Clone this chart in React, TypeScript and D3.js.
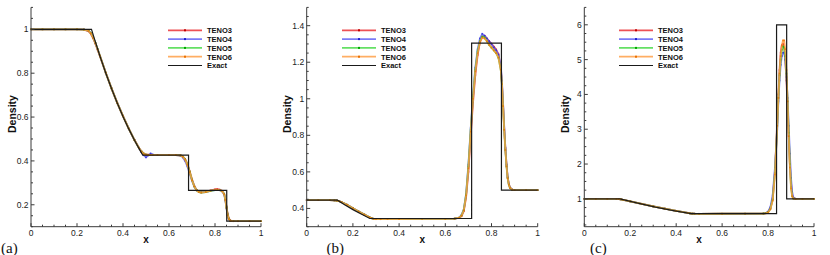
import React from 'react';
import * as d3 from 'd3';

// schemes and colours
const schemes = ['TENO3', 'TENO4', 'TENO5', 'TENO6'];
const lineColors = ['#e8262b', '#5a5af5', '#3fd83f', '#ff9a3c'];
const markColors = ['#c00000', '#1f1fd0', '#00a800', '#e87000'];

// shared x axis ticks
const xTicks = [0, 0.2, 0.4, 0.6, 0.8, 1];
const xTickLabels = ['0', '0.2', '0.4', '0.6', '0.8', '1'];

// (a) Sod problem
const yTicksA = [0.2, 0.4, 0.6, 0.8, 1];
const yLabelsA = ['0.2', '0.4', '0.6', '0.8', '1'];
const xa = [0, 0.05, 0.1, 0.15, 0.2, 0.23, 0.25, 0.26, 0.27, 0.28, 0.29, 0.3, 0.325, 0.35, 0.375, 0.4, 0.425, 0.45, 0.47, 0.48, 0.49, 0.5, 0.51, 0.52, 0.53, 0.55, 0.6, 0.63, 0.65, 0.66, 0.67, 0.68, 0.69, 0.7, 0.71, 0.72, 0.73, 0.74, 0.76, 0.78, 0.8, 0.81, 0.82, 0.83, 0.84, 0.845, 0.85, 0.855, 0.86, 0.865, 0.87, 0.88, 0.9, 0.95, 1];
const teno3A = [1, 1, 1, 1, 1, 0.999, 0.992, 0.98, 0.96, 0.935, 0.906, 0.877, 0.802, 0.731, 0.665, 0.604, 0.547, 0.495, 0.459, 0.444, 0.434, 0.429, 0.428, 0.427, 0.427, 0.427, 0.427, 0.427, 0.425, 0.42, 0.409, 0.387, 0.353, 0.316, 0.286, 0.268, 0.26, 0.257, 0.259, 0.265, 0.27, 0.271, 0.269, 0.264, 0.25, 0.227, 0.192, 0.16, 0.139, 0.13, 0.127, 0.125, 0.125, 0.125, 0.125];
const teno4A = [1, 1, 1, 1, 1, 0.999, 0.994, 0.983, 0.963, 0.938, 0.909, 0.878, 0.802, 0.731, 0.665, 0.604, 0.547, 0.495, 0.457, 0.44, 0.426, 0.416, 0.425, 0.434, 0.429, 0.427, 0.427, 0.427, 0.424, 0.416, 0.4, 0.375, 0.343, 0.31, 0.283, 0.266, 0.259, 0.257, 0.258, 0.263, 0.267, 0.268, 0.267, 0.262, 0.247, 0.22, 0.183, 0.15, 0.134, 0.127, 0.126, 0.125, 0.125, 0.125, 0.125];
const teno5A = [1, 1, 1, 1, 1, 0.999, 0.994, 0.983, 0.963, 0.938, 0.909, 0.878, 0.802, 0.731, 0.665, 0.604, 0.547, 0.495, 0.458, 0.443, 0.433, 0.428, 0.427, 0.427, 0.427, 0.427, 0.427, 0.427, 0.425, 0.42, 0.408, 0.385, 0.35, 0.313, 0.284, 0.266, 0.258, 0.256, 0.258, 0.263, 0.267, 0.268, 0.267, 0.263, 0.25, 0.225, 0.188, 0.155, 0.136, 0.128, 0.126, 0.125, 0.125, 0.125, 0.125];
const teno6A = [1, 1, 1, 1, 1, 0.999, 0.993, 0.982, 0.962, 0.937, 0.908, 0.878, 0.802, 0.731, 0.665, 0.604, 0.547, 0.495, 0.458, 0.442, 0.432, 0.428, 0.427, 0.427, 0.427, 0.427, 0.427, 0.427, 0.425, 0.419, 0.406, 0.382, 0.348, 0.312, 0.284, 0.266, 0.258, 0.256, 0.258, 0.264, 0.268, 0.269, 0.267, 0.263, 0.248, 0.222, 0.185, 0.152, 0.135, 0.128, 0.126, 0.125, 0.125, 0.125, 0.125];
const exactA: [number, number][] = [[0, 1], [0.263, 1], [0.28, 0.943], [0.3, 0.877], [0.325, 0.801], [0.35, 0.73], [0.375, 0.664], [0.4, 0.603], [0.425, 0.546], [0.45, 0.494], [0.47, 0.456], [0.486, 0.426], [0.685, 0.426], [0.685, 0.266], [0.851, 0.266], [0.851, 0.125], [1, 0.125]];

// (b) Lax problem
const yTicksB = [0.4, 0.6, 0.8, 1, 1.2, 1.4];
const yLabelsB = ['0.4', '0.6', '0.8', '1', '1.2', '1.4'];
const xb = [0, 0.05, 0.1, 0.12, 0.13, 0.14, 0.15, 0.175, 0.2, 0.225, 0.25, 0.27, 0.28, 0.29, 0.3, 0.32, 0.35, 0.4, 0.5, 0.6, 0.64, 0.66, 0.67, 0.68, 0.69, 0.7, 0.71, 0.72, 0.73, 0.74, 0.75, 0.76, 0.77, 0.78, 0.79, 0.8, 0.81, 0.82, 0.83, 0.84, 0.845, 0.85, 0.855, 0.86, 0.865, 0.87, 0.875, 0.88, 0.89, 0.9, 0.95, 1];
const teno3B = [0.445, 0.445, 0.445, 0.444, 0.443, 0.44, 0.435, 0.42, 0.401, 0.383, 0.366, 0.353, 0.347, 0.343, 0.341, 0.341, 0.342, 0.342, 0.343, 0.343, 0.344, 0.348, 0.358, 0.385, 0.46, 0.6, 0.8, 0.98, 1.13, 1.24, 1.31, 1.34, 1.345, 1.33, 1.315, 1.3, 1.285, 1.27, 1.245, 1.17, 1.09, 0.97, 0.84, 0.73, 0.64, 0.57, 0.535, 0.515, 0.503, 0.5, 0.5, 0.5];
const teno4B = [0.445, 0.445, 0.445, 0.444, 0.443, 0.44, 0.435, 0.42, 0.401, 0.383, 0.366, 0.353, 0.347, 0.343, 0.341, 0.341, 0.342, 0.342, 0.343, 0.343, 0.344, 0.35, 0.363, 0.395, 0.48, 0.64, 0.84, 1.02, 1.17, 1.27, 1.33, 1.355, 1.345, 1.33, 1.315, 1.3, 1.28, 1.265, 1.24, 1.18, 1.1, 0.98, 0.85, 0.73, 0.64, 0.57, 0.532, 0.513, 0.502, 0.5, 0.5, 0.5];
const teno5B = [0.445, 0.445, 0.445, 0.444, 0.443, 0.44, 0.435, 0.42, 0.401, 0.383, 0.366, 0.353, 0.347, 0.343, 0.341, 0.341, 0.342, 0.342, 0.343, 0.343, 0.344, 0.349, 0.361, 0.392, 0.475, 0.63, 0.83, 1.01, 1.16, 1.26, 1.315, 1.34, 1.335, 1.315, 1.295, 1.28, 1.265, 1.25, 1.225, 1.16, 1.08, 0.96, 0.83, 0.72, 0.63, 0.565, 0.53, 0.512, 0.502, 0.5, 0.5, 0.5];
const teno6B = [0.445, 0.445, 0.445, 0.444, 0.443, 0.44, 0.435, 0.42, 0.401, 0.383, 0.366, 0.353, 0.347, 0.343, 0.341, 0.341, 0.342, 0.342, 0.343, 0.343, 0.344, 0.349, 0.36, 0.39, 0.47, 0.62, 0.82, 1.0, 1.15, 1.25, 1.31, 1.335, 1.33, 1.315, 1.295, 1.28, 1.265, 1.25, 1.225, 1.16, 1.08, 0.96, 0.83, 0.72, 0.63, 0.565, 0.53, 0.512, 0.502, 0.5, 0.5, 0.5];
const exactB: [number, number][] = [[0, 0.445], [0.133, 0.445], [0.166, 0.419], [0.202, 0.392], [0.236, 0.369], [0.273, 0.345], [0.714, 0.345], [0.714, 1.304], [0.843, 1.304], [0.843, 0.5], [1, 0.5]];

// (c) strong shock problem
const yTicksC = [1, 2, 3, 4, 5, 6];
const yLabelsC = ['1', '2', '3', '4', '5', '6'];
const xc = [0, 0.05, 0.1, 0.14, 0.15, 0.16, 0.17, 0.2, 0.25, 0.3, 0.35, 0.4, 0.45, 0.46, 0.47, 0.48, 0.5, 0.6, 0.7, 0.78, 0.79, 0.8, 0.81, 0.82, 0.83, 0.84, 0.845, 0.85, 0.855, 0.86, 0.865, 0.87, 0.875, 0.88, 0.885, 0.89, 0.895, 0.9, 0.905, 0.91, 0.92, 0.95, 1];
const teno3C = [1, 1, 1, 0.998, 0.994, 0.985, 0.972, 0.928, 0.855, 0.783, 0.717, 0.656, 0.595, 0.583, 0.576, 0.573, 0.571, 0.572, 0.574, 0.58, 0.59, 0.62, 0.72, 1.0, 1.8, 3.2, 4.0, 4.7, 5.2, 5.42, 5.45, 5.35, 5.0, 4.4, 3.6, 2.8, 2.0, 1.45, 1.12, 1.02, 1.0, 1.0, 1.0];
const teno4C = [1, 1, 1, 0.998, 0.994, 0.985, 0.972, 0.928, 0.855, 0.783, 0.717, 0.656, 0.595, 0.583, 0.576, 0.573, 0.571, 0.572, 0.574, 0.58, 0.592, 0.63, 0.76, 1.1, 1.9, 3.0, 3.8, 4.4, 4.85, 5.1, 5.2, 5.2, 5.0, 4.5, 3.9, 3.1, 2.3, 1.6, 1.2, 1.04, 1.0, 1.0, 1.0];
const teno5C = [1, 1, 1, 0.998, 0.994, 0.985, 0.972, 0.928, 0.855, 0.783, 0.717, 0.656, 0.595, 0.583, 0.576, 0.573, 0.571, 0.572, 0.574, 0.579, 0.588, 0.615, 0.71, 0.98, 1.75, 3.1, 3.9, 4.55, 5.0, 5.28, 5.38, 5.35, 5.1, 4.6, 3.8, 2.9, 2.0, 1.35, 1.08, 1.01, 1.0, 1.0, 1.0];
const teno6C = [1, 1, 1, 0.998, 0.994, 0.985, 0.972, 0.928, 0.855, 0.783, 0.717, 0.656, 0.595, 0.583, 0.576, 0.573, 0.571, 0.572, 0.574, 0.578, 0.585, 0.61, 0.7, 0.95, 1.7, 3.1, 3.9, 4.6, 5.1, 5.4, 5.55, 5.55, 5.3, 4.7, 3.8, 2.8, 1.9, 1.3, 1.07, 1.01, 1.0, 1.0, 1.0];
const exactC: [number, number][] = [[0, 1], [0.155, 1], [0.233, 0.876], [0.31, 0.764], [0.388, 0.664], [0.465, 0.575], [0.837, 0.575], [0.837, 6], [0.881, 6], [0.881, 1], [1, 1]];

const SANS = 'Liberation Sans, Arial, Helvetica, sans-serif';
const SERIF = 'Liberation Serif, Times New Roman, serif';

type PanelProps = {
  left: number;
  right: number;
  top: number;
  bottom: number;
  yDomain: [number, number];
  yTicks: number[];
  yLabels: string[];
  yMinorStep: number;
  xs: number[];
  series: number[][];
  exact: [number, number][];
  legendX: number;
  tag: string;
  tagX: number;
};

function Panel({ left, right, top, bottom, yDomain, yTicks, yLabels, yMinorStep, xs, series, exact, legendX, tag, tagX }: PanelProps) {
  const x = d3.scaleLinear([0, 1], [left, right]);
  const y = d3.scaleLinear(yDomain, [bottom, top]);
  const line = d3.line<number>((d, i) => x(xs[i]), (d) => y(d));
  const exactLine = d3.line<[number, number]>((d) => x(d[0]), (d) => y(d[1]));

  const xMinor = d3.range(0, 1.0001, 0.05).filter((v) => !xTicks.some((t) => Math.abs(t - v) < 1e-6));
  const yMinor = d3
    .range(Math.ceil(yDomain[0] / yMinorStep) * yMinorStep, yDomain[1] + 1e-6, yMinorStep)
    .filter((v) => !yTicks.some((t) => Math.abs(t - v) < 1e-6));

  const legendRows = [...schemes, 'Exact'];
  const rowGap = 8.8;
  const legendTop = 30.3;

  return (
    <g>
      {/* numerical solutions */}
      {series.map((s, k) => (
        <g key={k}>
          <path d={line(s) || ''} fill="none" stroke={lineColors[k]} strokeWidth={1.8} strokeOpacity={0.8} />
          {s.map((v, i) => (
            <rect key={i} x={x(xs[i]) - 0.8} y={y(v) - 0.8} width={1.6} height={1.6} fill={markColors[k]} opacity={0.7} />
          ))}
        </g>
      ))}
      <path d={exactLine(exact) || ''} fill="none" stroke="#1a1a1a" strokeWidth={1.2} />

      {/* axes */}
      <g stroke="#3a3a3a" strokeWidth={1}>
        <line x1={left} x2={left} y1={top} y2={bottom} />
        <line x1={left} x2={right} y1={bottom} y2={bottom} />
        {xTicks.map((t) => (
          <line key={'xt' + t} x1={x(t)} x2={x(t)} y1={bottom} y2={bottom - 3.5} />
        ))}
        {xMinor.map((t) => (
          <line key={'xm' + t} x1={x(t)} x2={x(t)} y1={bottom} y2={bottom - 2} />
        ))}
        {yTicks.map((t) => (
          <line key={'yt' + t} x1={left} x2={left + 3.5} y1={y(t)} y2={y(t)} />
        ))}
        {yMinor.map((t) => (
          <line key={'ym' + t} x1={left} x2={left + 2} y1={y(t)} y2={y(t)} />
        ))}
      </g>
      <g fontFamily={SANS} fontSize={8.5} fill="#222">
        {xTicks.map((t, i) => (
          <text key={'xl' + t} x={x(t)} y={bottom + 9} textAnchor="middle">
            {xTickLabels[i]}
          </text>
        ))}
        {yTicks.map((t, i) => (
          <text key={'yl' + t} x={left - 2.5} y={y(t) + 3} textAnchor="end">
            {yLabels[i]}
          </text>
        ))}
      </g>
      <text x={(left + right) / 2} y={bottom + 16} textAnchor="middle" fontFamily={SANS} fontWeight="bold" fontSize={10} fill="#111">
        x
      </text>
      <text
        transform={`translate(${left - 15.5},${(top + bottom) / 2 - 3}) rotate(-90)`}
        textAnchor="middle"
        fontFamily={SANS}
        fontWeight="bold"
        fontSize={10.5}
        fill="#111"
      >
        Density
      </text>

      {/* legend */}
      {legendRows.map((name, k) => {
        const ly = legendTop + k * rowGap;
        const isExact = k === 4;
        return (
          <g key={name}>
            <line
              x1={legendX}
              x2={legendX + 34}
              y1={ly}
              y2={ly}
              stroke={isExact ? '#1a1a1a' : lineColors[k]}
              strokeWidth={isExact ? 1.2 : 1.8}
              strokeOpacity={isExact ? 1 : 0.8}
            />
            {!isExact && <rect x={legendX + 17 - 1} y={ly - 1} width={2} height={2} fill={markColors[k]} />}
            <text x={legendX + 39} y={ly + 2.8} fontFamily={SANS} fontWeight="bold" fontSize={7.5} fill="#111">
              {name}
            </text>
          </g>
        );
      })}

      <text x={tagX} y={252.5} fontFamily={SERIF} fontSize={15} fill="#111">
        {tag}
      </text>
    </g>
  );
}

export default function App() {
  const top = 7.4;
  const bottom = 226.7;
  return (
    <div style={{ position: 'absolute', left: 0, top: 0 }}>
      <svg width={830} height={255} style={{ display: 'block', background: '#fff' }}>
        <Panel
          left={31}
          right={261}
          top={top}
          bottom={bottom}
          yDomain={[0.1, 1.1]}
          yTicks={yTicksA}
          yLabels={yLabelsA}
          yMinorStep={0.05}
          xs={xa}
          series={[teno3A, teno4A, teno5A, teno6A]}
          exact={exactA}
          legendX={168}
          tag="(a)"
          tagX={1}
        />
        <Panel
          left={306.7}
          right={537.7}
          top={top}
          bottom={bottom}
          yDomain={[0.3, 1.5]}
          yTicks={yTicksB}
          yLabels={yLabelsB}
          yMinorStep={0.05}
          xs={xb}
          series={[teno3B, teno4B, teno5B, teno6B]}
          exact={exactB}
          legendX={342}
          tag="(b)"
          tagX={326.5}
        />
        <Panel
          left={584.3}
          right={814}
          top={top}
          bottom={bottom}
          yDomain={[0.2, 6.5]}
          yTicks={yTicksC}
          yLabels={yLabelsC}
          yMinorStep={0.25}
          xs={xc}
          series={[teno3C, teno4C, teno5C, teno6C]}
          exact={exactC}
          legendX={619}
          tag="(c)"
          tagX={590}
        />
      </svg>
    </div>
  );
}
